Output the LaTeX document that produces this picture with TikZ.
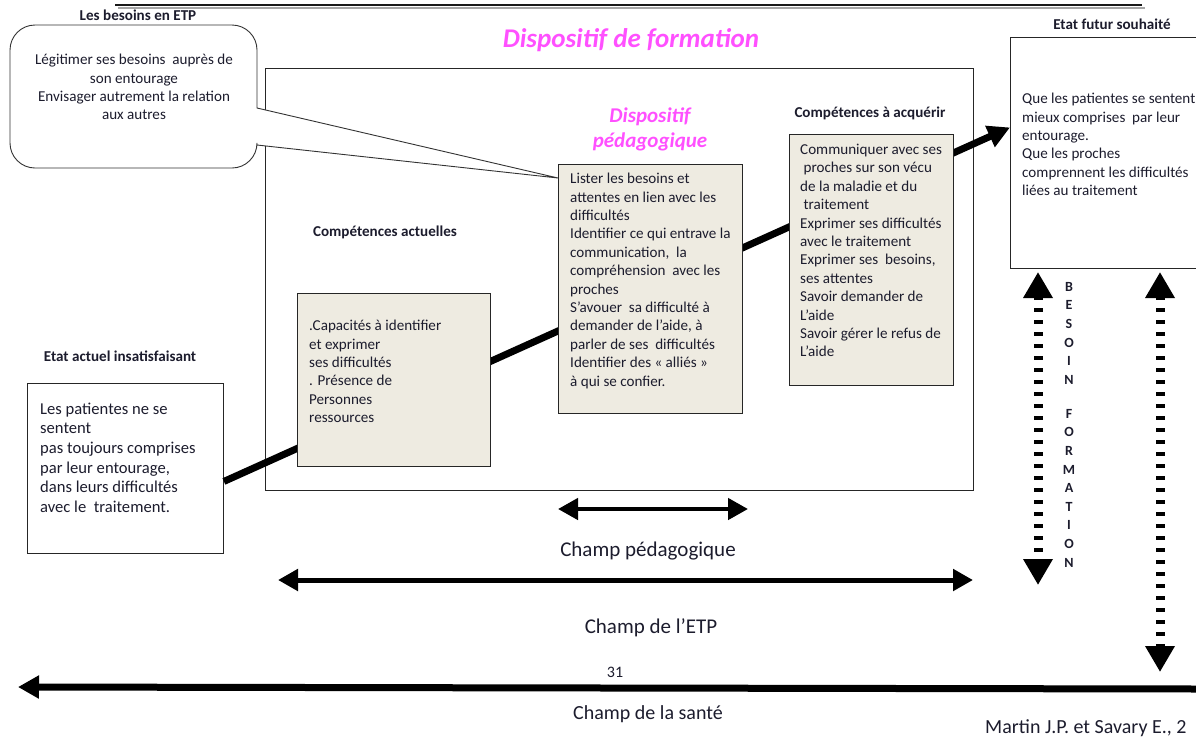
\documentclass[tikz,border=0pt]{standalone}
\usepackage{fontspec}
\setmainfont{Carlito}
\usetikzlibrary{arrows.meta}
\definecolor{txtc}{RGB}{28,28,45}
\definecolor{beige}{RGB}{238,235,225}
\definecolor{mag}{RGB}{255,80,255}
\tikzset{
  box/.style={draw=black!85, line width=0.9pt, inner sep=0pt, anchor=north west},
  btxt/.style={inner sep=0pt, anchor=north west, align=left, text=txtc, font=\fontsize{15.1}{18.4}\selectfont},
  lbl/.style={inner sep=0pt, text=txtc, font=\bfseries\fontsize{15.1}{17}\selectfont},
  titl/.style={inner sep=0pt, text=mag, align=center, font=\bfseries\itshape\fontsize{27}{30}\selectfont},
  fieldlbl/.style={inner sep=0pt, text=txtc, font=\fontsize{21}{24}\selectfont},
  dblarrow/.style={line width=4.5pt, {Triangle[length=20pt,width=21pt]}-{Triangle[length=20pt,width=21pt]}},
  mainline/.style={line width=7pt, -{Triangle[length=22pt,width=22pt]}},
  dasharrow/.style={line width=9pt, dash pattern=on 4pt off 8pt, {Triangle[length=26pt,width=28pt]}-{Triangle[length=26pt,width=28pt]}}
}
\begin{document}
\begin{tikzpicture}[x=1pt,y=-1pt]
\useasboundingbox (0,0) rectangle (1196,740);
% top edge
\draw[line width=2pt, black!35] (118,8) -- (1145,8);
\draw[line width=1.8pt, black!90] (115,5) -- (1142,5);

% titles
\node[titl] (dform) at (631,40) {Dispositif de formation};
\node[titl, font=\bfseries\itshape\fontsize{21}{25}\selectfont] (dped) at (650,129) {Dispositif\\pédagogique};

% big frame
\node[box, minimum width=708pt, minimum height=422pt] (frame) at (265,68) {};

% callout
\draw[line width=0.9pt, black!80, fill=white]
  (257,108) [rounded corners=25pt] -- (257,25) -- (10,25) -- (10,168) -- (257,168) [sharp corners] -- (257,145) -- (558,178) -- cycle;
\node[lbl] (lbesoins) at (138,15) {Les besoins en ETP};
\node[btxt, anchor=north, align=center] (besoins) at (134,54) {Légitimer ses besoins\ \ auprès de\\son entourage\\Envisager autrement la relation\\aux autres};

% boxes (empty frames)
\node[box, minimum width=196pt, minimum height=170pt] (actuel) at (27,383) {};
\node[box, minimum width=200pt, minimum height=231pt] (futur) at (1010,37) {};

% main arrow
\draw[mainline] ([yshift=-13pt]actuel.east) -- ([yshift=25.5pt]futur.west);

\node[box, fill=beige, minimum width=193pt, minimum height=173pt] (capa) at (297,293) {};
\node[box, fill=beige, minimum width=184pt, minimum height=249pt] (lister) at (558,164) {};
\node[box, fill=beige, minimum width=164pt, minimum height=251pt] (comm) at (789,134) {};

% labels
\node[lbl] (lactuel) at (120,356) {Etat actuel insatisfaisant};
\node[lbl] (lcapa) at (385,232) {Compétences actuelles};
\node[lbl] (lcomm) at (870,113) {Compétences à acquérir};
\node[lbl] (lfutur) at (1112,24) {Etat futur souhaité};

% texts
\node[btxt, font=\fontsize{16.6}{19.7}\selectfont] (tactuel) at (40,402.5) {Les patientes ne se\\sentent\\pas toujours comprises\\par leur entourage,\\dans leurs difficultés\\avec le\ \ traitement.};
\node[btxt] (tcapa) at (309,320) {.Capacités à identifier\\et exprimer\\ses difficultés\\. Présence de\\Personnes\\ressources};
\node[btxt] (tlister) at (570,173) {Lister les besoins et\\attentes en lien avec les\\difficultés\\Identifier ce qui entrave la\\communication,\ \ la\\compréhension\ \ avec les\\proches\\S’avouer\ \ sa difficulté à\\demander de l’aide, à\\parler de ses\ \ difficultés\\Identifier des «~alliés~»\\à qui se confier.};
\node[btxt] (tcomm) at (800,144) {Communiquer avec ses\\\ proches sur son vécu\\de la maladie et du\\\ traitement\\Exprimer ses difficultés\\avec le traitement\\Exprimer ses\ \ besoins,\\ses attentes\\Savoir demander de\\L’aide\\Savoir gérer le refus de\\L’aide};
\node[btxt] (tfutur) at (1022,93) {Que les patientes se sentent\\mieux comprises\ \ par leur\\entourage.\\Que les proches\\comprennent les difficultés\\liées au traitement};

% fields
\coordinate (p1) at (558,509);
\coordinate (p2) at (748,509);
\draw[dblarrow] (p1) -- (p2);
\node[fieldlbl] (lped) at (648,551) {Champ pédagogique};
\coordinate (e1) at (278,580);
\coordinate (e2) at (973,580);
\draw[dblarrow, line width=5pt] (e1) -- (e2);
\node[fieldlbl] (letp) at (651,628) {Champ de l’ETP};
\coordinate (s1) at (1200,689);
\coordinate (s2) at (18,687);
\draw[line width=7pt, -{Triangle[length=21pt,width=22pt]}] (s1) -- (s2);
\node[inner sep=0pt, text=txtc, font=\fontsize{16}{18}\selectfont] (pnum) at (615,672) {31};
\node[fieldlbl, font=\fontsize{20}{24}\selectfont] (lsante) at (648,714) {Champ de la santé};
\node[fieldlbl, font=\fontsize{20}{24}\selectfont, anchor=west] (ref) at (985,728) {Martin J.P. et Savary E., 2};

% vertical dashed arrows
\coordinate (v1a) at (1038,272);
\coordinate (v1b) at (1038,585);
\draw[dasharrow] (v1a) -- (v1b);
\coordinate (v2a) at (1160,272);
\coordinate (v2b) at (1160,672);
\draw[dasharrow] (v2a) -- (v2b);
\node[inner sep=0pt, anchor=north, align=center, text=txtc, font=\bfseries\fontsize{14}{18.6}\selectfont] (bf) at (1069,282) {B\\E\\S\\O\\I\\N\\[15.4pt]F\\O\\R\\M\\A\\T\\I\\O\\N};
\end{tikzpicture}
\end{document}
